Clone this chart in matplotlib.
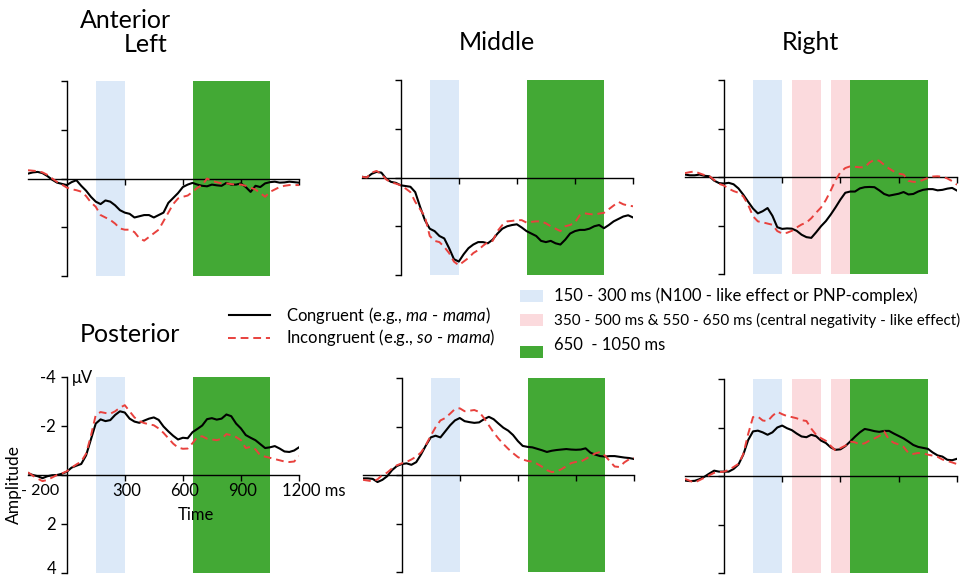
import numpy as np
import matplotlib.pyplot as plt
from matplotlib.patches import Rectangle

plt.rcParams['font.family'] = ['Lato', 'DejaVu Sans']
plt.rcParams['mathtext.fontset'] = 'custom'
plt.rcParams['mathtext.rm'] = 'Lato'
plt.rcParams['mathtext.it'] = 'Lato:italic'

# time axis (ms), 25 ms steps
times = np.arange(-200, 1201, 25)

# amplitudes in microvolts (negative plotted upward)
tl_con = [-0.20, -0.25, -0.27, -0.22, -0.10, 0.05, 0.17, 0.22,
          0.27, 0.15, 0.07, 0.30, 0.50, 0.75, 0.95, 1.05,
          0.90, 0.95, 1.10, 1.30, 1.40, 1.45, 1.60, 1.55,
          1.50, 1.50, 1.60, 1.50, 1.40, 1.00, 0.80, 0.60,
          0.35, 0.25, 0.18, 0.25, 0.30, 0.32, 0.25, 0.28,
          0.30, 0.18, 0.25, 0.25, 0.20, 0.35, 0.55, 0.30,
          0.35, 0.20, 0.15, 0.13, 0.17, 0.16, 0.13, 0.15,
          0.17]
tl_inc = [-0.34, -0.32, -0.30, -0.25, -0.15, 0.00, 0.14, 0.25,
          0.37, 0.44, 0.48, 0.54, 0.72, 0.98, 1.16, 1.50,
          1.60, 1.70, 1.85, 2.05, 2.10, 2.10, 2.20, 2.45,
          2.55, 2.40, 2.25, 2.10, 1.75, 1.40, 1.05, 0.82,
          0.75, 0.70, 0.55, 0.38, 0.27, 0.00, 0.10, 0.15,
          0.20, 0.20, 0.23, 0.25, 0.25, 0.30, 0.38, 0.45,
          0.60, 0.75, 0.55, 0.45, 0.35, 0.30, 0.27, 0.27,
          0.27]
tm_con = [-0.03, 0.00, -0.15, -0.23, -0.20, 0.05, 0.18, 0.22,
          0.32, 0.35, 0.38, 0.60, 1.20, 1.75, 2.10, 2.20,
          2.40, 2.50, 2.90, 3.35, 3.45, 3.15, 2.90, 2.75,
          2.65, 2.65, 2.70, 2.55, 2.30, 2.10, 2.00, 1.95,
          1.92, 2.05, 2.20, 2.30, 2.40, 2.60, 2.65, 2.60,
          2.70, 2.75, 2.55, 2.30, 2.20, 2.15, 2.15, 2.10,
          2.00, 1.95, 2.08, 1.95, 1.80, 1.70, 1.60, 1.55,
          1.64]
tm_inc = [-0.03, 0.00, -0.20, -0.27, -0.15, 0.08, 0.20, 0.25,
          0.32, 0.45, 0.60, 1.00, 1.30, 1.60, 2.40, 2.60,
          2.65, 2.85, 3.10, 3.45, 3.60, 3.45, 3.30, 3.10,
          2.98, 2.80, 2.65, 2.60, 2.20, 1.95, 1.80, 1.78,
          1.75, 1.75, 1.85, 1.82, 1.80, 1.80, 1.88, 2.00,
          2.10, 2.20, 2.00, 1.95, 1.85, 1.55, 1.47, 1.50,
          1.52, 1.48, 1.45, 1.30, 1.15, 1.00, 1.10, 1.15,
          1.18]
tr_con = [-0.10, -0.07, -0.07, -0.10, -0.05, -0.03, 0.15, 0.25,
          0.27, 0.24, 0.30, 0.47, 0.73, 1.02, 1.30, 1.50,
          1.41, 1.28, 1.60, 2.07, 2.14, 2.12, 2.13, 2.22,
          2.38, 2.48, 2.51, 2.28, 2.03, 1.82, 1.55, 1.25,
          0.93, 0.65, 0.60, 0.60, 0.47, 0.42, 0.41, 0.42,
          0.55, 0.70, 0.77, 0.73, 0.69, 0.62, 0.72, 0.70,
          0.60, 0.53, 0.50, 0.50, 0.55, 0.53, 0.48, 0.45,
          0.56]
tr_inc = [-0.16, -0.20, -0.23, -0.15, -0.08, -0.04, 0.12, 0.28,
          0.35, 0.48, 0.58, 0.65, 0.80, 1.15, 1.62, 1.83,
          1.87, 1.92, 1.97, 2.23, 2.33, 2.30, 2.22, 2.08,
          1.96, 1.88, 1.70, 1.47, 1.26, 0.95, 0.56, 0.13,
          -0.20, -0.37, -0.44, -0.42, -0.40, -0.40, -0.60, -0.71,
          -0.67, -0.50, -0.35, -0.23, -0.14, -0.10, 0.16, 0.20,
          0.20, 0.12, 0.04, -0.02, -0.03, -0.01, 0.06, 0.17,
          0.32]
bl_con = [-0.07, 0.00, 0.05, 0.13, 0.05, 0.01, 0.00, -0.05,
          -0.13, -0.30, -0.38, -0.45, -0.80, -1.45, -2.10, -2.27,
          -2.20, -2.24, -2.45, -2.60, -2.55, -2.30, -2.18, -2.13,
          -2.22, -2.30, -2.35, -2.25, -1.98, -1.78, -1.60, -1.45,
          -1.52, -1.50, -1.75, -1.88, -2.02, -2.28, -2.32, -2.26,
          -2.30, -2.47, -2.40, -2.10, -1.90, -1.63, -1.52, -1.42,
          -1.26, -1.10, -1.13, -1.18, -1.08, -0.96, -0.94, -1.00,
          -1.13]
bl_inc = [-0.11, 0.03, 0.15, 0.25, 0.20, 0.10, 0.00, -0.06,
          -0.15, -0.30, -0.43, -0.55, -0.87, -1.60, -2.45, -2.57,
          -2.53, -2.50, -2.60, -2.75, -2.85, -2.60, -2.35, -2.20,
          -2.12, -2.07, -2.03, -1.90, -1.72, -1.50, -1.28, -1.12,
          -1.07, -1.08, -1.30, -1.55, -1.58, -1.48, -1.45, -1.42,
          -1.48, -1.67, -1.62, -1.55, -1.42, -1.10, -1.15, -1.05,
          -0.80, -0.75, -0.70, -0.65, -0.60, -0.55, -0.53, -0.55,
          -0.77]
bm_con = [0.14, 0.14, 0.16, 0.29, 0.20, 0.05, -0.20, -0.37,
          -0.45, -0.48, -0.42, -0.53, -0.85, -1.22, -1.55, -1.62,
          -1.55, -1.80, -2.05, -2.25, -2.35, -2.22, -2.18, -2.15,
          -2.17, -2.30, -2.40, -2.30, -2.12, -1.95, -1.83, -1.65,
          -1.40, -1.20, -1.16, -1.14, -1.08, -1.02, -0.95, -1.00,
          -1.03, -1.05, -1.07, -1.05, -1.04, -1.05, -1.10, -0.92,
          -0.84, -0.78, -0.76, -0.78, -0.78, -0.75, -0.72, -0.70,
          -0.66]
bm_inc = [0.20, 0.23, 0.26, 0.18, 0.00, -0.10, -0.27, -0.40,
          -0.48, -0.54, -0.64, -0.76, -0.93, -1.24, -1.62, -1.97,
          -2.25, -2.35, -2.53, -2.72, -2.75, -2.63, -2.65, -2.68,
          -2.60, -2.35, -2.05, -1.75, -1.50, -1.28, -1.08, -0.90,
          -0.74, -0.64, -0.58, -0.55, -0.46, -0.34, -0.20, -0.12,
          -0.14, -0.24, -0.36, -0.49, -0.54, -0.55, -0.66, -0.78,
          -0.89, -0.95, -0.80, -0.57, -0.35, -0.33, -0.52, -0.65,
          -0.70]
br_con = [0.19, 0.21, 0.20, 0.13, 0.03, -0.10, -0.22, -0.18,
          -0.18, -0.18, -0.29, -0.47, -0.88, -1.48, -1.84, -1.87,
          -1.80, -1.70, -1.80, -2.00, -2.08, -1.97, -1.89, -1.75,
          -1.63, -1.60, -1.70, -1.64, -1.46, -1.36, -1.18, -1.08,
          -1.10, -1.23, -1.42, -1.62, -1.80, -1.94, -1.90, -1.85,
          -1.82, -1.86, -1.86, -1.75, -1.65, -1.55, -1.42, -1.28,
          -1.20, -1.16, -1.12, -0.97, -0.85, -0.80, -0.67, -0.65,
          -0.71]
br_inc = [0.12, 0.20, 0.27, 0.17, 0.07, -0.03, -0.13, -0.16,
          -0.18, -0.25, -0.37, -0.50, -0.90, -1.73, -2.43, -2.45,
          -2.29, -2.26, -2.48, -2.65, -2.55, -2.47, -2.43, -2.38,
          -2.30, -2.27, -1.95, -1.70, -1.56, -1.45, -1.24, -1.05,
          -1.15, -1.25, -1.42, -1.39, -1.30, -1.35, -1.46, -1.55,
          -1.65, -1.84, -1.50, -1.37, -1.30, -1.20, -0.95, -0.91,
          -0.95, -0.93, -0.88, -0.84, -0.79, -0.68, -0.62, -0.56,
          -0.49]

# analysis windows (ms)
win_blue = (150, 300)
win_pink = [(350, 500), (550, 650)]
win_green = (650, 1050)

blue = '#dce9f8'
pink = '#fbdadd'
green = '#43a935'
red = '#e8413d'

W, H = 974, 577
fig = plt.figure(figsize=(9.74, 5.77), dpi=100)


def add_panel(x0, x1, y_top, y_bot, con, inc, pinks=False):
    ax = fig.add_axes([x0 / W, 1 - y_bot / H, (x1 - x0) / W, (y_bot - y_top) / H])
    ax.set_xlim(-200, 1200)
    ax.set_ylim(4, -4)
    ax.patch.set_alpha(0)
    ax.spines['top'].set_visible(False)
    ax.spines['right'].set_visible(False)
    ax.spines['left'].set_position(('data', 0))
    ax.spines['bottom'].set_position(('data', 0))
    ax.spines['left'].set_linewidth(1.0)
    ax.spines['bottom'].set_linewidth(1.0)
    ax.set_xticks([300, 600, 900, 1200])
    ax.set_xticklabels([])
    ax.set_yticks([-4, -2, 0, 2, 4])
    ax.set_yticklabels([])
    ax.tick_params(direction='out', length=4, width=1)

    ax.axvspan(*win_blue, color=blue, lw=0, zorder=0)
    if pinks:
        for a, b in win_pink:
            ax.axvspan(a, b, color=pink, lw=0, zorder=0)
    ax.axvspan(*win_green, color=green, lw=0, zorder=0)

    ax.plot(times, con, color='black', lw=1.5, zorder=3)
    ax.plot(times, inc, color=red, lw=1.4, ls=(0, (4, 2.5)), zorder=3)
    return ax


add_panel(28, 299, 81, 276, tl_con, tl_inc)
add_panel(362, 633, 80, 275, tm_con, tm_inc)
add_panel(685, 957, 80, 274, tr_con, tr_inc, pinks=True)
ax_bl = add_panel(28, 299, 377, 573, bl_con, bl_inc)
add_panel(363, 634, 378, 572, bm_con, bm_inc)
add_panel(685, 957, 379, 573, br_con, br_inc, pinks=True)

# labels on the bottom-left panel
ylabels = ['-4', '-2', '2', '4']
ylabel_pos = [-3.95, -1.95, 2.05, 3.85]
for s, v in zip(ylabels, ylabel_pos):
    ax_bl.text(-55, v, s, ha='right', va='center', fontsize=12)
ax_bl.text(25, -3.95, 'μV', ha='left', va='center', fontsize=12)
ax_bl.text(-38, 0.65, '- 200', ha='right', va='center', fontsize=11.5)
for t in [300, 600, 900]:
    ax_bl.text(t + 10, 0.65, str(t), ha='center', va='center', fontsize=12)
ax_bl.text(1110, 0.65, '1200 ms', ha='left', va='center', fontsize=12, clip_on=False)
ax_bl.text(670, 1.65, 'Time', ha='center', va='center', fontsize=12)
fig.text(14 / W, 1 - 485 / H, 'Amplitude', rotation=90, ha='center', va='center', fontsize=12.5)

# overlay for titles and legend
lay = fig.add_axes([0, 0, 1, 1])
lay.set_xlim(0, W)
lay.set_ylim(H, 0)
lay.axis('off')

lay.text(80, 20, 'Anterior', ha='left', va='center', fontsize=18)
lay.text(168, 45, 'Left', ha='right', va='center', fontsize=18)
lay.text(497, 43, 'Middle', ha='center', va='center', fontsize=18)
lay.text(810, 43, 'Right', ha='center', va='center', fontsize=18)
lay.text(80, 335, 'Posterior', ha='left', va='center', fontsize=18)

lay.plot([229, 270], [315, 315], color='black', lw=1.5)
lay.plot([228, 270], [338, 338], color=red, lw=1.4, ls=(0, (4, 2.5)))
lay.text(286, 315, r'Congruent (e.g., $\mathit{ma}$ - $\mathit{mama}$)', va='center', fontsize=12)
lay.text(286, 338, r'Incongruent (e.g., $\mathit{so}$ - $\mathit{mama}$)', va='center', fontsize=12)

leg_items = [(blue, '150 - 300 ms (N100 - like effect or PNP-complex)', 296, 296, 12),
             (pink, '350 - 500 ms & 550 - 650 ms (central negativity - like effect)', 320, 320, 11),
             (green, '650  - 1050 ms', 352, 345, 12)]
for col, label, yp, yt, fs in leg_items:
    lay.add_patch(Rectangle((520, yp - 6), 23, 12, color=col, lw=0))
    lay.text(554, yt, label, va='center', fontsize=fs)

fig.savefig('out.png', dpi=100)
